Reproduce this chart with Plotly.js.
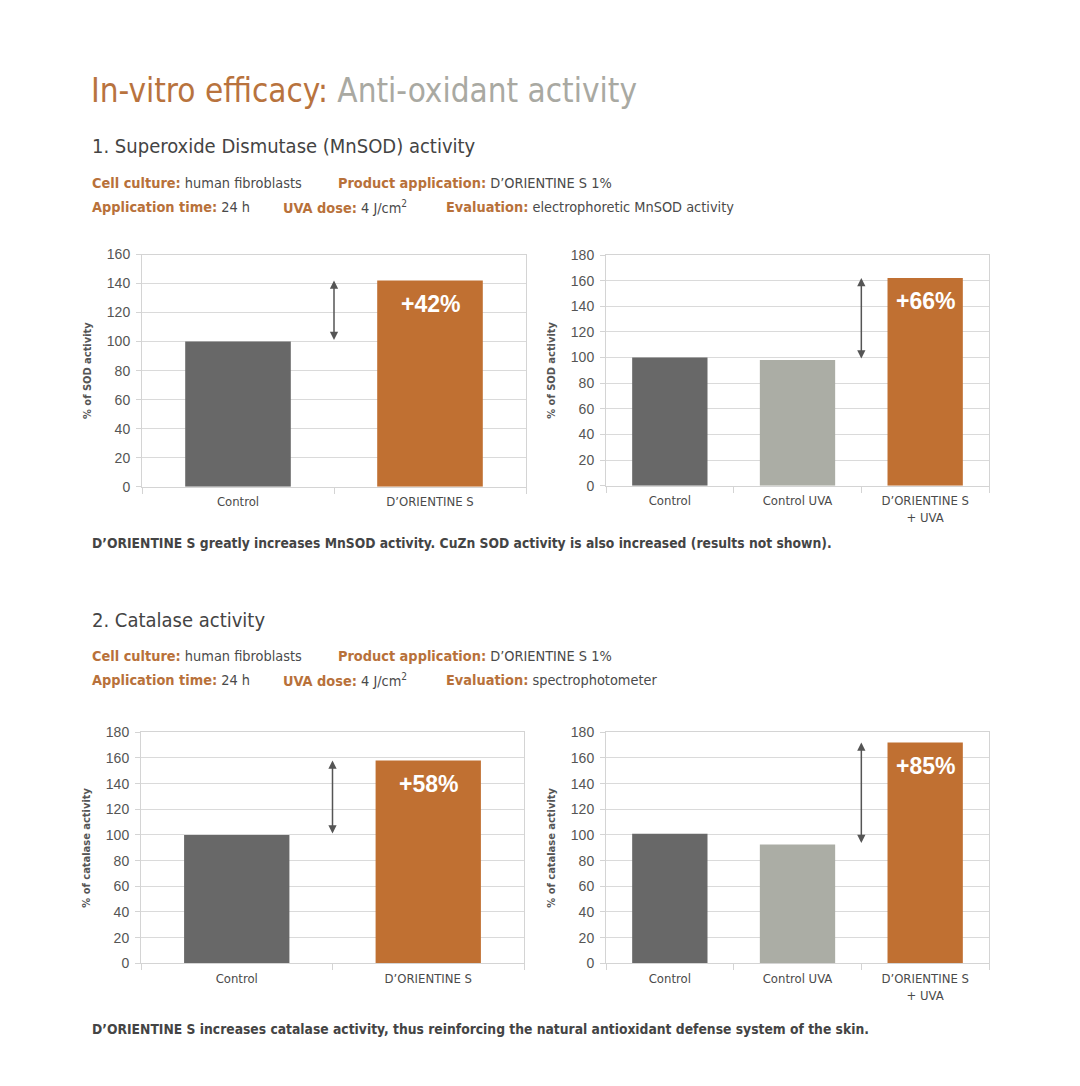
<!DOCTYPE html>
<html>
<head>
<meta charset="utf-8">
<script src="https://cdn.plot.ly/plotly-3.0.1.min.js"></script>
<style>html,body{margin:0;padding:0;background:#fff;}#chart{width:1080px;height:1086px;}</style>
</head>
<body>
<div id="chart"></div>
<script>
// ---- data ----
const sodCats1 = ['Control', 'D\u2019ORIENTINE S'];
const sodVals1 = [100, 142];
const sodLabel1 = '+42%';
const sodCats2 = ['Control', 'Control UVA', 'D\u2019ORIENTINE S<br>+ UVA'];
const sodVals2 = [100, 98, 162];
const sodLabel2 = '+66%';
const catCats1 = ['Control', 'D\u2019ORIENTINE S'];
const catVals1 = [100, 158];
const catLabel1 = '+58%';
const catCats2 = ['Control', 'Control UVA', 'D\u2019ORIENTINE S<br>+ UVA'];
const catVals2 = [101, 92.5, 172];
const catLabel2 = '+85%';
const sodRange1 = [0, 160];
const sodRange2 = [0, 180];
const catRange = [0, 180];
const sodTitle = '% of SOD activity';
const catTitle = '% of catalase activity';

const colors2 = ['#686868', '#C07032'];
const colors3 = ['#686868', '#ABADA5', '#C07032'];
const ORANGE = '#B8713A';
const TXT = '#4a4a4a';
const NARROW = '"DejaVu Sans Condensed", "Liberation Sans", Arial, sans-serif';
const SANS = '"Liberation Sans", Arial, sans-serif';

function bar(cats, vals, colors, n, w) {
  return {type: 'bar', x: cats, y: vals, width: w, marker: {color: colors, line: {width: 0}},
    xaxis: 'x' + (n === 1 ? '' : n), yaxis: 'y' + (n === 1 ? '' : n), hoverinfo: 'none', showlegend: false};
}
const traces = [
  bar(sodCats1, sodVals1, colors2, 1, 0.55),
  bar(sodCats2, sodVals2, colors3, 2, 0.59),
  bar(catCats1, catVals1, colors2, 3, 0.55),
  bar(catCats2, catVals2, colors3, 4, 0.59)
];

function xa(dom) {
  return {domain: dom, type: 'category', showgrid: false, showline: true, linecolor: '#d4d4d4', linewidth: 1,
    mirror: true, ticks: 'outside', tickson: 'boundaries', ticklen: 6, tickcolor: '#d4d4d4',
    ticklabelstandoff: 3,
    tickfont: {family: NARROW, size: 13, color: TXT}, fixedrange: true, zeroline: false};
}
function ya(dom, rng, title) {
  return {domain: dom, range: rng, dtick: 20, showgrid: true, gridcolor: '#dadada', gridwidth: 1,
    showline: true, linecolor: '#d4d4d4', mirror: true, ticks: 'outside', ticklen: 5, tickcolor: '#d4d4d4',
    ticklabelstandoff: 3,
    tickfont: {family: SANS, size: 14, color: '#555'}, zeroline: false, fixedrange: true,
    title: {text: '<b>' + title + '</b>', font: {family: NARROW, size: 11, color: '#555'}, standoff: 12}};
}
const W = 1080, H = 1086;
const px = (a, b) => [a / W, b / W];
const py = (top, bottom) => [1 - bottom / H, 1 - top / H];

const annotations = [];
function arrow(n, xpos, yLow, yHigh) {
  const s = n === 1 ? '' : n;
  annotations.push({xref: 'x' + s, yref: 'y' + s, axref: 'x' + s, ayref: 'y' + s,
    x: xpos, y: yHigh, ax: xpos, ay: yLow, text: '', showarrow: true, arrowside: 'end+start',
    arrowhead: 2, arrowsize: 1.1, arrowwidth: 1.5, arrowcolor: '#555', standoff: 0, startstandoff: 0});
}
function pct(n, cat, val, label) {
  const s = n === 1 ? '' : n;
  annotations.push({xref: 'x' + s, yref: 'y' + s, x: cat, y: val, yshift: -23, yanchor: 'middle',
    text: '<b>' + label + '</b>', showarrow: false, font: {family: SANS, size: 23, color: '#fff'}});
}
arrow(1, 0.5, sodVals1[0], sodVals1[1]); pct(1, sodCats1[1], sodVals1[1], sodLabel1);
arrow(2, 1.5, sodVals2[1], sodVals2[2]); pct(2, sodCats2[2], sodVals2[2], sodLabel2);
arrow(3, 0.5, catVals1[0], catVals1[1]); pct(3, catCats1[1], catVals1[1], catLabel1);
arrow(4, 1.5, catVals2[1], catVals2[2]); pct(4, catCats2[2], catVals2[2], catLabel2);

function txt(x, y, text, size, family, color) {
  annotations.push({xref: 'paper', yref: 'paper', x: x / W, y: 1 - y / H, xanchor: 'left', yanchor: 'middle',
    text: text, showarrow: false, font: {family: family, size: size, color: color}});
}
const o = s => '<span style="color:' + ORANGE + '"><b>' + s + '</b></span>';
txt(89, 90, '<span style="color:#B8733E">In-vitro efficacy:</span> <span style="color:#A9A9A2">Anti-oxidant activity</span>', 33, NARROW, '#A9A9A2');
txt(90, 146, '1. Superoxide Dismutase (MnSOD) activity', 20, NARROW, '#444');
txt(90, 183, o('Cell culture:') + ' human fibroblasts', 14.4, NARROW, TXT);
txt(336, 183, o('Product application:') + ' D\u2019ORIENTINE S 1%', 14.4, NARROW, TXT);
txt(90, 207, o('Application time:') + ' 24 h', 14.4, NARROW, TXT);
txt(281, 207, o('UVA dose:') + ' 4 J/cm<sup>2</sup>', 14.4, NARROW, TXT);
txt(444, 207, o('Evaluation:') + ' electrophoretic MnSOD activity', 14.4, NARROW, TXT);
txt(90, 543, '<b>D\u2019ORIENTINE S greatly increases MnSOD activity. CuZn SOD activity is also increased (results not shown).</b>', 13.75, NARROW, '#444');
txt(90, 620, '2. Catalase activity', 20, NARROW, '#444');
txt(90, 656, o('Cell culture:') + ' human fibroblasts', 14.4, NARROW, TXT);
txt(336, 656, o('Product application:') + ' D\u2019ORIENTINE S 1%', 14.4, NARROW, TXT);
txt(90, 680, o('Application time:') + ' 24 h', 14.4, NARROW, TXT);
txt(281, 680, o('UVA dose:') + ' 4 J/cm<sup>2</sup>', 14.4, NARROW, TXT);
txt(444, 680, o('Evaluation:') + ' spectrophotometer', 14.4, NARROW, TXT);
txt(90, 1029, '<b>D\u2019ORIENTINE S increases catalase activity, thus reinforcing the natural antioxidant defense system of the skin.</b>', 13.75, NARROW, '#444');

const layout = {
  width: W, height: H, margin: {l: 0, r: 0, t: 0, b: 0}, paper_bgcolor: '#fff', plot_bgcolor: '#fff',
  showlegend: false, font: {family: SANS, color: TXT},
  xaxis: xa(px(142, 526)), yaxis: ya(py(254.5, 486.7), sodRange1, sodTitle),
  xaxis2: xa(px(606, 989)), yaxis2: ya(py(255, 485.7), sodRange2, sodTitle),
  xaxis3: xa(px(141, 524)), yaxis3: ya(py(732.3, 963.3), catRange, catTitle),
  xaxis4: xa(px(606, 989)), yaxis4: ya(py(732.3, 963.3), catRange, catTitle),
  annotations: annotations
};
layout.xaxis.anchor = 'y'; layout.yaxis.anchor = 'x';
layout.xaxis2.anchor = 'y2'; layout.yaxis2.anchor = 'x2';
layout.xaxis3.anchor = 'y3'; layout.yaxis3.anchor = 'x3';
layout.xaxis4.anchor = 'y4'; layout.yaxis4.anchor = 'x4';

Plotly.newPlot('chart', traces, layout, {staticPlot: true, displayModeBar: false});
</script>
</body>
</html>
